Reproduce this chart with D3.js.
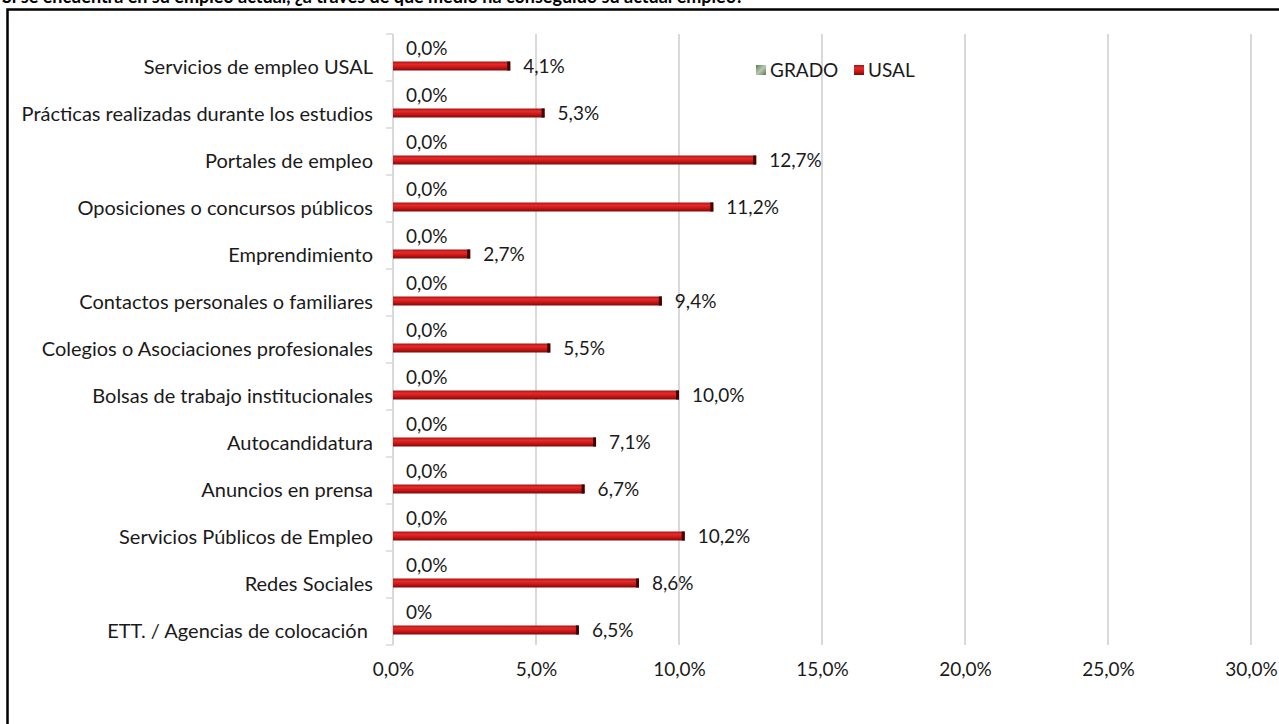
<!DOCTYPE html>
<html><head><meta charset="utf-8">
<script src="https://cdn.jsdelivr.net/npm/d3@7"></script>
<style>
html,body{margin:0;padding:0;background:#fff;}
svg{display:block;font-family:Lato,"Open Sans",sans-serif;}
</style></head>
<body>
<svg id="chart" width="1279" height="724"></svg>
<script>
const title = "Si se encuentra en su empleo actual, ¿a través de qué medio ha conseguido su actual empleo?";
const categories = [
  "Servicios de empleo USAL",
  "Prácticas realizadas durante los estudios",
  "Portales de empleo",
  "Oposiciones o concursos públicos",
  "Emprendimiento",
  "Contactos personales o familiares",
  "Colegios o Asociaciones profesionales",
  "Bolsas de trabajo institucionales",
  "Autocandidatura",
  "Anuncios en prensa",
  "Servicios Públicos de Empleo",
  "Redes Sociales",
  "ETT. / Agencias de colocación "
];
const gradoValues = [0,0,0,0,0,0,0,0,0,0,0,0,0];
const gradoLabels = ["0,0%","0,0%","0,0%","0,0%","0,0%","0,0%","0,0%","0,0%","0,0%","0,0%","0,0%","0,0%","0%"];
const usalValues = [4.1,5.3,12.7,11.2,2.7,9.4,5.5,10.0,7.1,6.7,10.2,8.6,6.5];
const xTicks = [0,5,10,15,20,25,30];
const seriesNames = ["GRADO","USAL"];

const FS = 19;
const FS_CAT = 20;
const svg = d3.select("#chart");
const defs = svg.append("defs");
const gr = defs.append("linearGradient").attr("id","redGrad").attr("x1",0).attr("y1",0).attr("x2",0).attr("y2",1);
gr.append("stop").attr("offset","0%").attr("stop-color","#a31414");
gr.append("stop").attr("offset","30%").attr("stop-color","#e82a2a");
gr.append("stop").attr("offset","65%").attr("stop-color","#c81616");
gr.append("stop").attr("offset","100%").attr("stop-color","#7a0a0a");
const gg = defs.append("linearGradient").attr("id","greenGrad").attr("x1",0).attr("y1",0).attr("x2",1).attr("y2",1);
gg.append("stop").attr("offset","0%").attr("stop-color","#5f7a58");
gg.append("stop").attr("offset","50%").attr("stop-color","#b6c9ae");
gg.append("stop").attr("offset","100%").attr("stop-color","#5f7a58");

const fmt = v => d3.format(".1f")(v).replace(".", ",") + "%";

// title (clipped at top, as in the reference)
svg.append("text").attr("x",2).attr("y",3).attr("font-weight","bold").attr("font-size",18)
  .attr("fill","#000").text(title);

// frame
svg.append("rect").attr("x",7.5).attr("y",9.5).attr("width",1400).attr("height",900)
  .attr("fill","none").attr("stroke","#000").attr("stroke-width",2.5);

const x = d3.scaleLinear().domain([0,30]).range([393,1251]);
const y = d3.scaleBand().domain(categories).range([34,645]).padding(0);

// gridlines
svg.append("g").selectAll("line").data(xTicks.slice(1)).join("line")
  .attr("x1",d=>x(d)).attr("x2",d=>x(d)).attr("y1",34).attr("y2",645)
  .attr("stroke","#d9d9d9").attr("stroke-width",2);

// x axis labels
const xAxis = d3.axisBottom(x).tickValues(xTicks).tickSize(0).tickFormat(fmt);
const gx = svg.append("g").attr("transform","translate(0,659)").call(xAxis);
gx.select(".domain").remove();
gx.selectAll("text").attr("font-size",FS).attr("fill","#1a1a1a").attr("font-family","Lato");

const barH = 9;
const usalOff = 32;

// y axis (labels aligned with the USAL bar)
const yAxis = d3.axisLeft(y).tickSize(0).tickPadding(20);
const gy = svg.append("g").attr("transform","translate(393,0)").call(yAxis);
gy.select(".domain").remove();
gy.selectAll(".tick").attr("transform",d=>`translate(0,${y(d)+usalOff+1})`);
gy.selectAll("text").attr("font-size",FS_CAT).attr("fill","#1a1a1a").attr("font-family","Lato")
  .attr("dy","0.35em").style("white-space","pre");
// left axis line and category ticks
svg.append("line").attr("x1",393).attr("x2",393).attr("y1",34).attr("y2",645)
  .attr("stroke","#d9d9d9").attr("stroke-width",2);
const bounds = categories.map(c=>y(c)).concat([645]);
svg.append("g").selectAll("line").data(bounds).join("line")
  .attr("x1",386).attr("x2",393).attr("y1",d=>d).attr("y2",d=>d)
  .attr("stroke","#d9d9d9").attr("stroke-width",1.5);

// USAL bars
const bars = svg.append("g").selectAll("g").data(categories).join("g");
bars.append("rect")
  .attr("x",x(0)).attr("y",(d,i)=>y(d)+usalOff-barH/2)
  .attr("width",(d,i)=>x(usalValues[i])-x(0)).attr("height",barH)
  .attr("fill","url(#redGrad)");
bars.append("rect")
  .attr("x",(d,i)=>x(usalValues[i])-3).attr("y",(d,i)=>y(d)+usalOff-barH/2)
  .attr("width",3).attr("height",barH).attr("fill","#3a0505");
// GRADO bars (zero width)
bars.append("rect")
  .attr("x",x(0)).attr("y",(d,i)=>y(d)+usalOff-barH*1.5)
  .attr("width",(d,i)=>x(gradoValues[i])-x(0)).attr("height",barH)
  .attr("fill","url(#greenGrad)");
// labels
bars.append("text")
  .attr("x",(d,i)=>x(usalValues[i])+13).attr("y",(d,i)=>y(d)+usalOff)
  .attr("dy","0.35em").attr("font-size",FS).attr("fill","#1a1a1a")
  .text((d,i)=>fmt(usalValues[i]));
bars.append("text")
  .attr("x",(d,i)=>x(gradoValues[i])+13).attr("y",(d,i)=>y(d)+14)
  .attr("dy","0.35em").attr("font-size",FS).attr("fill","#1a1a1a")
  .text((d,i)=>gradoLabels[i]);

// legend
const legend = svg.append("g");
const legX = [756, 854];
const legFill = ["url(#greenGrad)","url(#redGrad)"];
seriesNames.forEach((n,i)=>{
  legend.append("rect").attr("x",legX[i]).attr("y",65).attr("width",10).attr("height",10)
    .attr("fill",legFill[i]);
  legend.append("text").attr("x",legX[i]+14).attr("y",70).attr("dy","0.35em")
    .attr("font-size",FS).attr("fill","#1a1a1a").text(n);
});
</script>
</body></html>
